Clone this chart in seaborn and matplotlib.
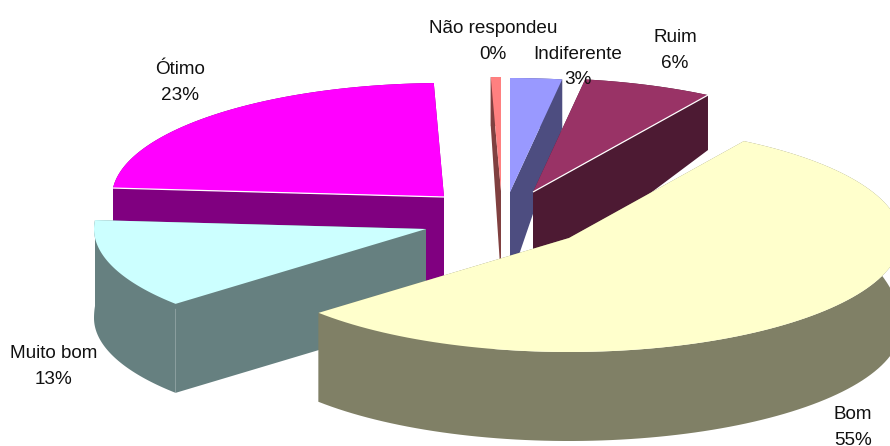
import numpy as np
import matplotlib
matplotlib.use("Agg")
import matplotlib.pyplot as plt
import seaborn as sns

# Data (clockwise from 12 o'clock)
categories = ["Indiferente", "Ruim", "Bom", "Muito bom", "Ótimo", "Não respondeu"]
values = [2.51, 6.32, 54.77, 12.65, 23.26, 0.49]

# Styles
top_colors = ["#9999FF", "#993366", "#FFFFCC", "#CCFFFF", "#FF00FF", "#FF8080"]
side_colors = ["#4D4D80", "#4D1A33", "#808066", "#668080", "#800080", "#804040"]
apex = {"Indiferente": (510, 192), "Ruim": (533, 192), "Bom": (569, 238),
        "Muito bom": (426, 229), "Ótimo": (444, 197), "Não respondeu": (501, 191)}
label_pos = {"Indiferente": (578, 67), "Ruim": (675, 50.5), "Bom": (853, 427.5),
             "Muito bom": (54, 366.5), "Ótimo": (180, 82.5), "Não respondeu": (493, 41.5)}
draw_order = ["Não respondeu", "Indiferente", "Ruim", "Ótimo", "Muito bom", "Bom"]
highlight_edge = {"Ruim": "end", "Ótimo": "start"}
RX, RY, DEPTH, BACK_SHRINK = 332, 114, 89, 40

sns.set_theme(style="white")
plt.rcParams["font.family"] = ["Liberation Sans", "DejaVu Sans"]
top_pal = dict(zip(categories, sns.color_palette(top_colors)))
side_pal = dict(zip(categories, sns.color_palette(side_colors)))

fig = plt.figure(figsize=(8.9, 4.46), dpi=100, facecolor="white")
ax = fig.add_axes([0, 0, 1, 1])
ax.set_xlim(0, 890)
ax.set_ylim(446, 0)
ax.axis("off")

ends = np.cumsum(values) / np.sum(values) * 360
starts = ends - np.array(values) / np.sum(values) * 360
span = dict(zip(categories, zip(starts, ends)))

for name in draw_order:
    a0, a1 = span[name]
    cx, cy = apex[name]
    th = np.radians(np.linspace(a0, a1, 120))
    rx, ry = cx + RX * np.sin(th), cy - RY * np.cos(th)
    rd = DEPTH - BACK_SHRINK * np.clip(np.cos(th), 0, 1)
    # rim face
    ax.fill(np.r_[rx, rx[::-1]], np.r_[ry, (ry + rd)[::-1]],
            facecolor=side_pal[name], edgecolor="none", zorder=2)
    # the two radial faces
    for k in (0, -1):
        ax.fill([cx, rx[k], rx[k], cx], [cy, ry[k], ry[k] + rd[k], cy + DEPTH],
                facecolor=side_pal[name], edgecolor="none", zorder=2)
    # top face
    ax.fill(np.r_[cx, rx], np.r_[cy, ry], facecolor=top_pal[name],
            edgecolor="none", zorder=2)
    if name in highlight_edge:
        k = 0 if highlight_edge[name] == "start" else -1
        ax.plot([cx, rx[k]], [cy, ry[k]], color="white", lw=0.9, zorder=2,
                solid_capstyle="butt")

for name, v in zip(categories, values):
    x, y = label_pos[name]
    ax.text(x, y, f"{name}\n{v:.0f}%", ha="center", va="center", multialignment="center",
            fontsize=13.6, color="#111111", linespacing=1.62, zorder=5)

fig.savefig("out.png", dpi=100, facecolor="white")
